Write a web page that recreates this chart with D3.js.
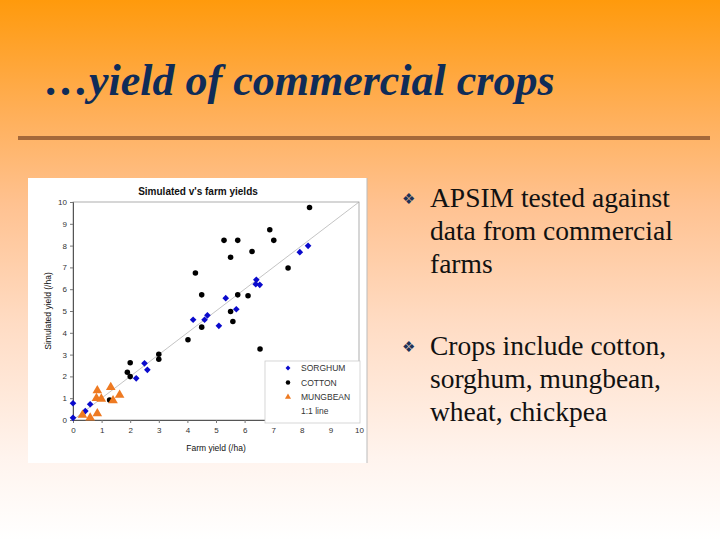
<!DOCTYPE html>
<html><head><meta charset="utf-8">
<script src="https://cdn.jsdelivr.net/npm/d3@7"></script>
<style>html,body{margin:0;padding:0;}svg{display:block;}</style>
</head><body>
<script>
// ---- data ----
const sorghumX = [0, 0, 0.43, 0.6, 2.21, 2.5, 2.6, 4.2, 4.6, 4.7, 5.1, 5.34, 5.71, 6.41, 6.39, 6.53, 7.93, 8.22];
const sorghumY = [0.1, 0.77, 0.41, 0.72, 1.91, 2.6, 2.3, 4.6, 4.6, 4.8, 4.32, 5.59, 5.08, 6.43, 6.23, 6.2, 7.7, 7.99];
const cottonX = [1.28, 1.9, 2.0, 2.0, 3.0, 3.0, 4.02, 4.28, 4.5, 4.5, 5.28, 5.51, 5.51, 5.59, 5.76, 5.76, 6.12, 6.26, 6.54, 6.88, 7.02, 7.52, 8.27];
const cottonY = [0.92, 2.19, 2.63, 1.99, 3.02, 2.79, 3.68, 6.74, 5.74, 4.26, 8.24, 7.47, 4.98, 4.52, 8.24, 5.74, 5.7, 7.73, 3.26, 8.73, 8.24, 6.97, 9.75];
const mungbeanX = [0.33, 0.6, 0.85, 0.82, 0.85, 0.99, 1.32, 1.4, 1.63];
const mungbeanY = [0.23, 0.1, 0.3, 1.0, 1.35, 0.97, 1.5, 0.89, 1.15];
const xTicks = [0,1,2,3,4,5,6,7,8,9,10];
const yTicks = [0,1,2,3,4,5,6,7,8,9,10];
const legendLabels = ["SORGHUM", "COTTON", "MUNGBEAN", "1:1 line"];
const slideTitle = "\u2026yield of commercial crops";
const chartTitle = "Simulated v's farm yields";
const xTitle = "Farm yield (/ha)";
const yTitle = "Simulated yield (/ha)";
const bullets = [
  ["APSIM tested against", "data from commercial", "farms"],
  ["Crops include cotton,", "sorghum, mungbean,", "wheat, chickpea"]
];

const W = 720, H = 540;
const svg = d3.select("body").append("svg").attr("width", W).attr("height", H);

// background gradient
const defs = svg.append("defs");
const g = defs.append("linearGradient").attr("id","bg").attr("x1",0).attr("y1",0).attr("x2",0).attr("y2",1);
[[0,"#FF9A0C"],[0.2,"#FFAE55"],[0.38,"#FFC291"],[0.6,"#FFDCC4"],[0.85,"#FFF4EE"],[1,"#FFFFFF"]]
  .forEach(([o,c]) => g.append("stop").attr("offset",o).attr("stop-color",c));
svg.append("rect").attr("width",W).attr("height",H).attr("fill","url(#bg)");

// slide title
svg.append("text").attr("x",45).attr("y",95)
  .attr("font-family","'Liberation Serif', 'Times New Roman', serif")
  .attr("font-style","italic").attr("font-weight","bold").attr("font-size",44)
  .attr("fill","#0F2C58").text(slideTitle);

// rule
svg.append("rect").attr("x",18).attr("y",136).attr("width",692).attr("height",4).attr("fill","#A4683A");

// bullets
const bulletTop = [207, 355];
bullets.forEach((lines, i) => {
  svg.append("text").attr("x",402).attr("y",bulletTop[i]-3)
    .attr("font-family","'DejaVu Sans', sans-serif").attr("font-size",15)
    .attr("fill","#1E3358").text("\u2756");
  const t = svg.append("text")
    .attr("font-family","'Liberation Serif', 'Times New Roman', serif")
    .attr("font-size",27.5).attr("fill","#111");
  lines.forEach((l, j) => {
    t.append("tspan").attr("x",430).attr("y",bulletTop[i] + j*33).text(l);
  });
});

// chart box
svg.append("rect").attr("x",28).attr("y",178).attr("width",339).attr("height",285).attr("fill","#FFFFFF");
svg.append("line").attr("x1",367).attr("x2",367).attr("y1",178).attr("y2",463).attr("stroke","#BBBBBB").attr("stroke-width",1);

const x = d3.scaleLinear().domain([0,10]).range([73,359]);
const y = d3.scaleLinear().domain([0,10]).range([420,202]);

// plot frame
svg.append("rect").attr("x",x(0)).attr("y",y(10)).attr("width",x(10)-x(0)).attr("height",y(0)-y(10))
  .attr("fill","none").attr("stroke","#999").attr("stroke-width",0.8);

// 1:1 line
svg.append("line").attr("x1",x(0)).attr("y1",y(0)).attr("x2",x(10)).attr("y2",y(10))
  .attr("stroke","#AAAAAA").attr("stroke-width",0.7);

const font = "'Liberation Sans', Arial, sans-serif";
const ax = svg.append("g").attr("transform",`translate(0,${y(0)})`)
  .call(d3.axisBottom(x).tickValues(xTicks).tickSize(3).tickPadding(4).tickFormat(d3.format("d")));
const ay = svg.append("g").attr("transform",`translate(${x(0)},0)`)
  .call(d3.axisLeft(y).tickValues(yTicks).tickSize(3).tickPadding(3).tickFormat(d3.format("d")));
[ax, ay].forEach(a => {
  a.select(".domain").attr("stroke","#555").attr("stroke-width",1);
  a.selectAll(".tick line").attr("stroke","#777");
  a.selectAll(".tick text").attr("font-family",font).attr("font-size",8).attr("fill","#333");
});

// titles
svg.append("text").attr("x",198).attr("y",195).attr("text-anchor","middle")
  .attr("font-family",font).attr("font-weight","bold").attr("font-size",10).attr("fill","#111").text(chartTitle);
svg.append("text").attr("x",216).attr("y",451).attr("text-anchor","middle")
  .attr("font-family",font).attr("font-size",8.5).attr("fill","#111").text(xTitle);
svg.append("text").attr("transform","translate(51,311) rotate(-90)").attr("text-anchor","middle")
  .attr("font-family",font).attr("font-size",8.5).attr("fill","#111").text(yTitle);

// markers
const diamond = d3.symbol(d3.symbolSquare, 22);
const circle = d3.symbol(d3.symbolCircle, 24);
const tri = d3.symbol(d3.symbolTriangle, 40);
const cl = svg.append("g");
cl.selectAll("path.c").data(d3.range(cottonX.length)).join("path").attr("class","c")
  .attr("d",circle).attr("fill","#000")
  .attr("transform",i=>`translate(${x(cottonX[i])},${y(cottonY[i])})`);
cl.selectAll("path.s").data(d3.range(sorghumX.length)).join("path").attr("class","s")
  .attr("d",diamond).attr("fill","#0A0ACC")
  .attr("transform",i=>`translate(${x(sorghumX[i])},${y(sorghumY[i])}) rotate(45)`);
cl.selectAll("path.m").data(d3.range(mungbeanX.length)).join("path").attr("class","m")
  .attr("d",tri).attr("fill","#EE7A22")
  .attr("transform",i=>`translate(${x(mungbeanX[i])},${y(mungbeanY[i])})`);

// legend
const lg = svg.append("g");
lg.append("rect").attr("x",265).attr("y",361).attr("width",95).attr("height",62)
  .attr("fill","#FFFFFF").attr("stroke","#CCCCCC").attr("stroke-width",0.8);
const lgY = [368, 382.5, 397, 411];
const lgSym = [d3.symbol(d3.symbolSquare,12), d3.symbol(d3.symbolCircle,16), d3.symbol(d3.symbolTriangle,16), null];
const lgCol = ["#0A0ACC","#000","#EE7A22",null];
legendLabels.forEach((lab,i) => {
  if (lgSym[i]) lg.append("path").attr("d",lgSym[i]).attr("fill",lgCol[i])
    .attr("transform",`translate(288,${lgY[i]})${i===0?" rotate(45)":""}`);
  lg.append("text").attr("x",301).attr("y",lgY[i]+3).attr("font-family",font).attr("font-size",8.5)
    .attr("fill","#333").text(lab);
});
</script>
</body></html>
